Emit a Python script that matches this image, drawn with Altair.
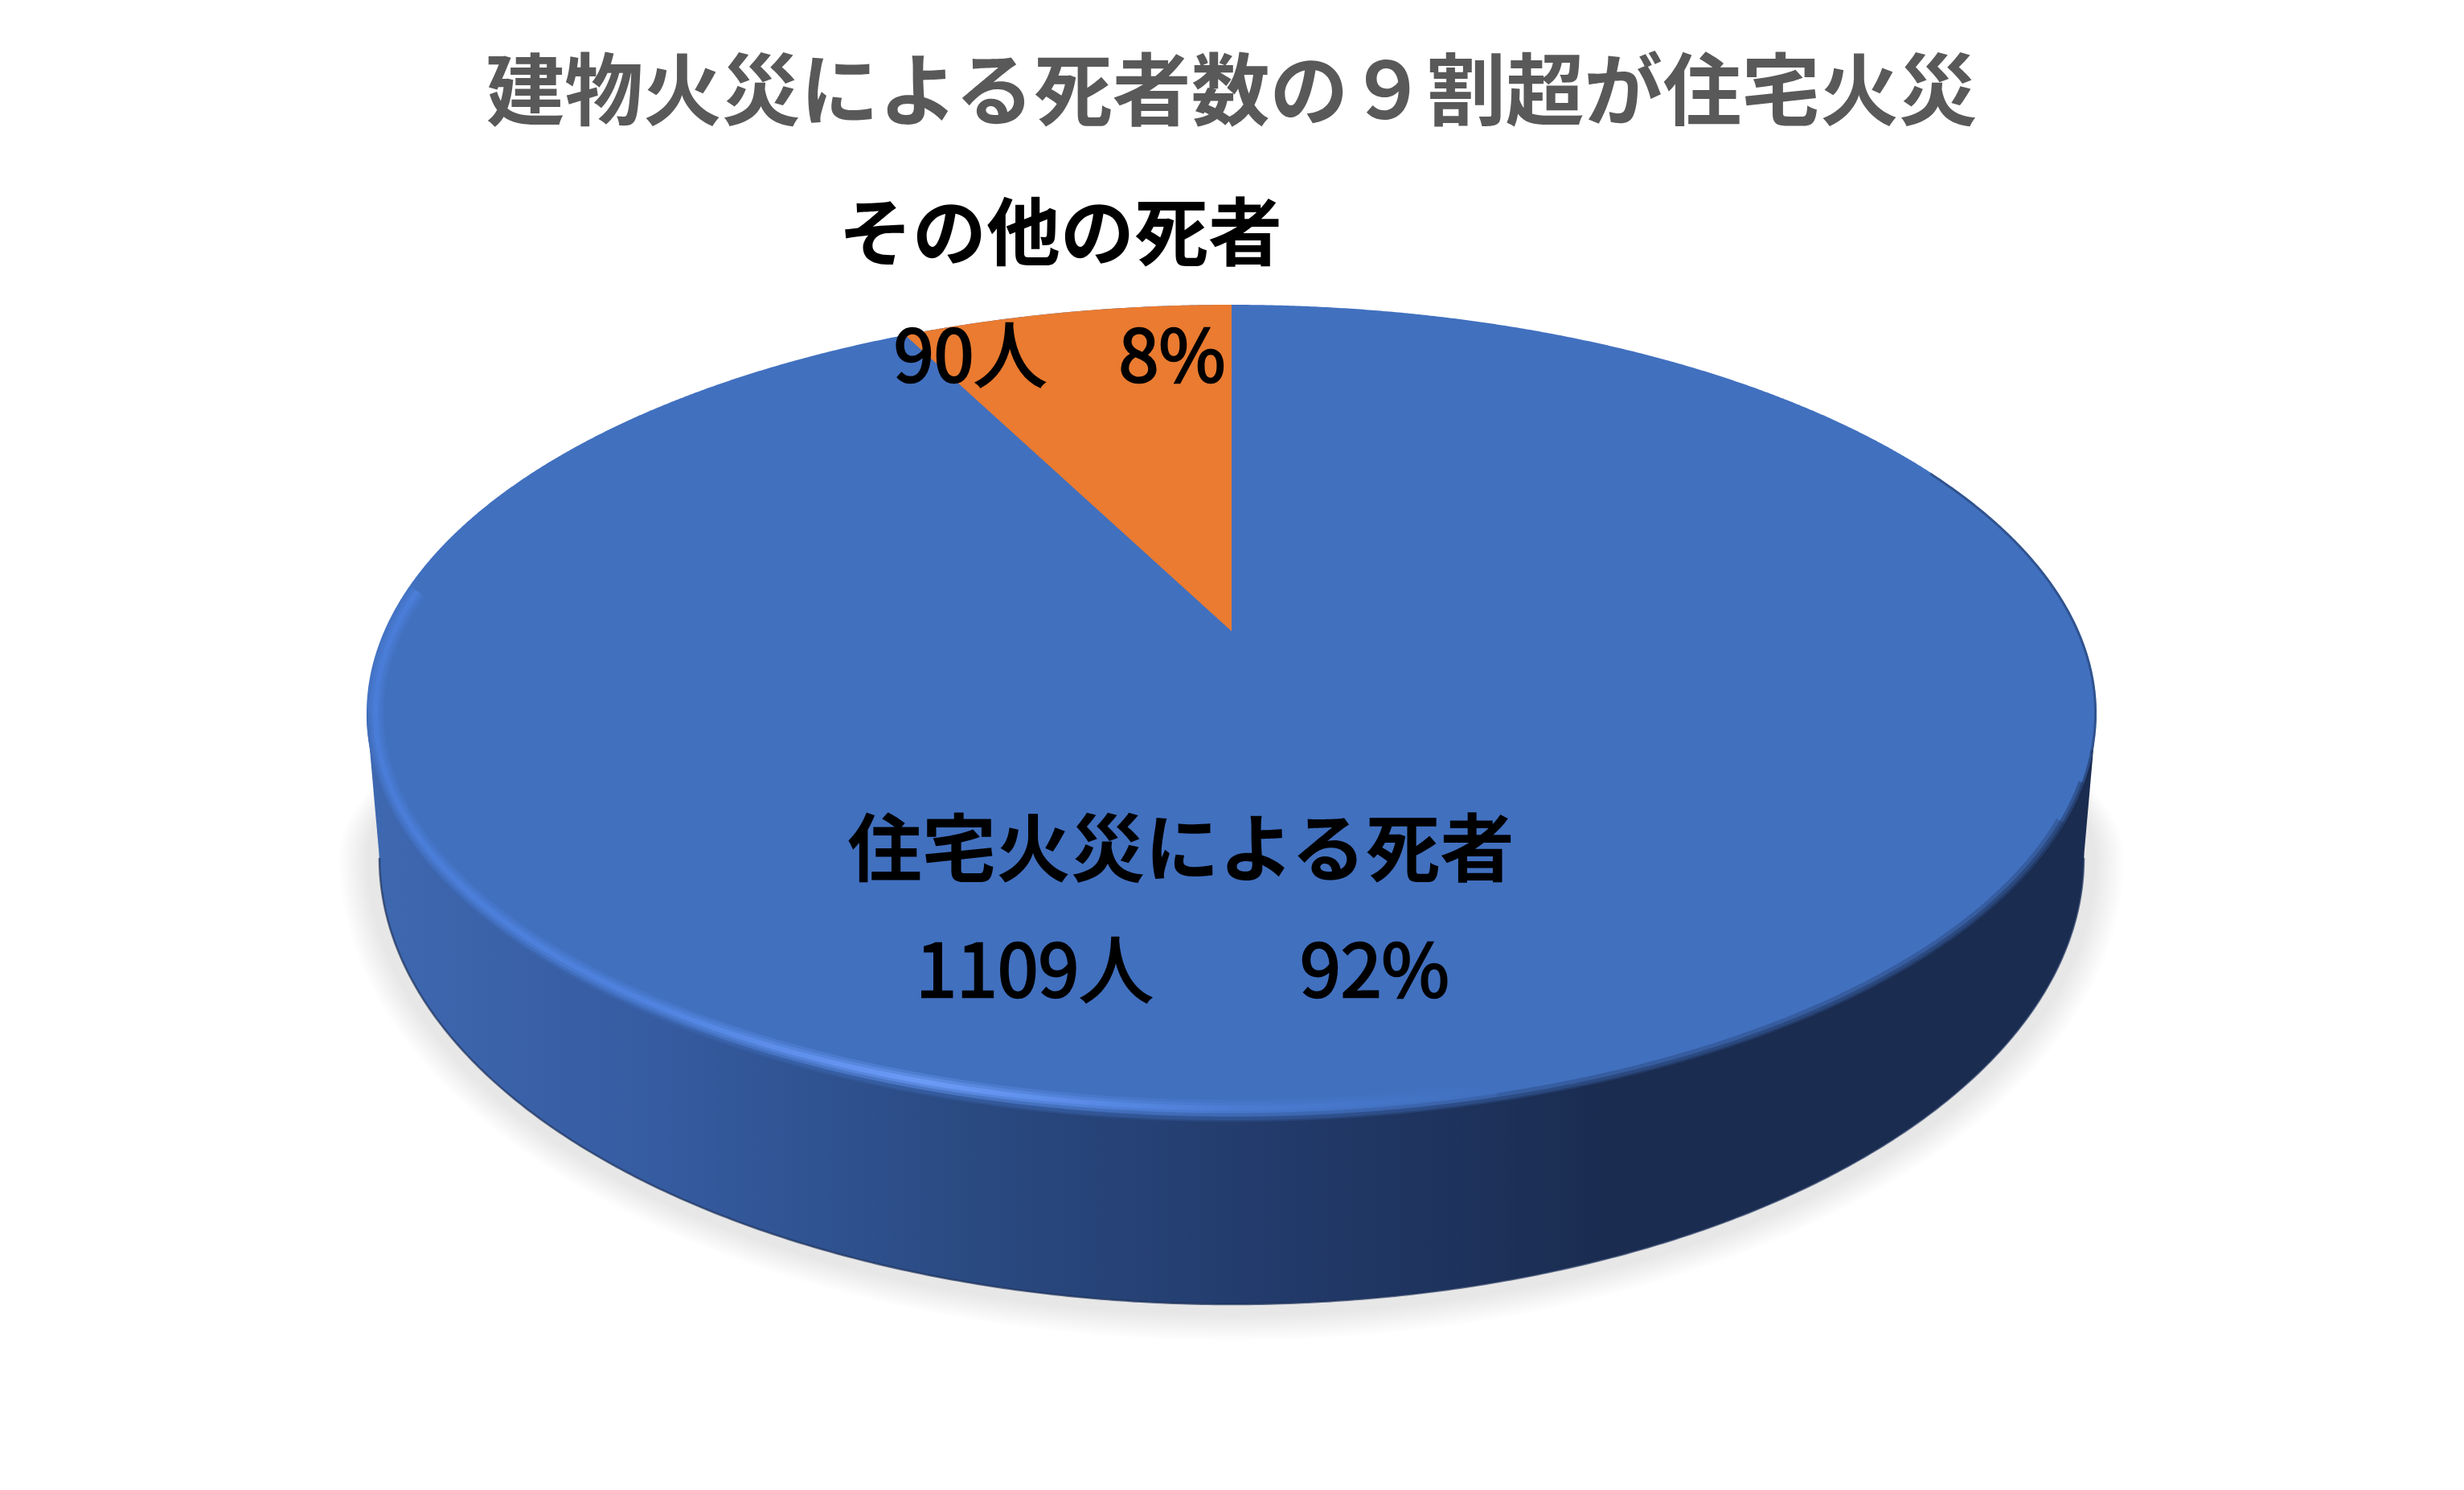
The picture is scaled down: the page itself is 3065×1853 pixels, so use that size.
import altair as alt
import numpy as np
import pandas as pd

# --- chart values
categories = ["住宅火災による死者", "その他の死者"]
deaths = [1109, 90]
percents = ["92%", "8%"]
title_text = "建物火災による死者数の９割超が住宅火災"

# --- page / drawing frame (data units are page pixels)
W, H = 3065, 1853
X_SCALE = alt.Scale(domain=[8, W - 8], range=[0, W - 16], nice=False, zero=False, clamp=False)
Y_SCALE = alt.Scale(domain=[H - 8, 8], range=[H - 16, 0], nice=False, zero=False, clamp=False)

# --- disc geometry (tilted, seen in perspective)
CX, CY, RX, RY = 1532.0, 887.0, 1076.0, 508.0
BX, BY, BRX, BRY = 1532.0, 1067.0, 1060.0, 555.0   # lower rim of the wall
APEX_Y, PERSP = 785.0, 0.2008
PA, PB = RX * np.sqrt(1 - PERSP**2), (APEX_Y - (CY - RY)) * (1 + PERSP)


def project(theta):
    """Point on the disc's rim, theta measured anticlockwise from 12 o'clock."""
    u, v = -np.sin(theta), np.cos(theta)
    d = 1 + PERSP * v
    return CX + PA * u / d, APEX_Y - PB * v / d


def arc_x(cx, rx, n=500):
    return cx + rx * np.cos(np.linspace(np.pi, 0, n))


def half(x, cx, rx):
    return np.sqrt(np.clip(1 - ((x - cx) / rx) ** 2, 0, 1))


def grad(stops, x0, x1):
    return alt.Gradient(
        gradient="linear", x1=0, x2=1, y1=0, y2=0,
        stops=[alt.GradientStop(offset=float((p - x0) / (x1 - x0)), color=c) for p, c in stops],
    )


def area(df, **mark):
    return alt.Chart(df).mark_area(clip=False, **mark).encode(
        x=alt.X("x:Q", scale=X_SCALE, axis=None),
        y=alt.Y("y:Q", scale=Y_SCALE, axis=None, stack=None),
        y2="y2:Q",
    )


def line(df, **mark):
    return alt.Chart(df).mark_line(clip=False, **mark).encode(
        x=alt.X("x:Q", scale=X_SCALE, axis=None),
        y=alt.Y("y:Q", scale=Y_SCALE, axis=None),
        order="i:Q",
    )


def text(s, px, py, size, color="#000000", weight="normal", stroke=0.0):
    kw = {"stroke": color, "strokeWidth": stroke} if stroke else {}
    return alt.Chart(pd.DataFrame({"t": [s]})).mark_text(
        font="Noto Sans CJK JP", fontSize=size, fontWeight=weight, color=color,
        align="center", baseline="middle", **kw,
    ).encode(x=alt.value(px - 8), y=alt.value(py - 8), text="t:N")


layers = []

# --- soft shadow under the disc
for g in np.linspace(50, 16, 12):
    x = arc_x(BX, BRX + g)
    s = half(x, BX, BRX + g)
    layers.append(area(pd.DataFrame({"x": x, "y": BY - 320 * s, "y2": BY + (BRY + g * 0.9) * s}),
                       color="#000000", opacity=0.0095))

# --- side wall
x = arc_x(CX, RX, 800)
x = x[(x >= 456) & (x <= 2608)]
lower = np.where(
    np.abs(x - BX) <= BRX,
    BY + BRY * half(x, BX, BRX),
    BY,
)
edge_l, edge_r = BX - BRX, BX + BRX
lower = np.where(x < edge_l, CY + (BY - CY) * (x - (CX - RX)) / (edge_l - (CX - RX)), lower)
lower = np.where(x > edge_r, CY + (BY - CY) * ((CX + RX) - x) / ((CX + RX) - edge_r), lower)
wall_stops = [(456, "#3e68b0"), (800, "#365ca2"), (1200, "#2a4a82"),
              (1600, "#223a6a"), (2000, "#1a2c50"), (2608, "#1a2c50")]
layers.append(area(pd.DataFrame({"x": x, "y": np.full_like(x, CY), "y2": lower}),
                   color=grad(wall_stops, x.min(), x.max())))

# thin dark lower rim of the wall
xb = arc_x(BX, BRX, 400)
layers.append(line(pd.DataFrame({"i": np.arange(len(xb)), "x": xb, "y": BY + BRY * half(xb, BX, BRX)}),
                   color="#1c305a", strokeWidth=2.5, opacity=0.7))

# --- top face: whole disc, then the smaller slice over it
xf = arc_x(CX, RX, 900)
sf = half(xf, CX, RX)
layers.append(area(pd.DataFrame({"x": xf, "y": CY - RY * sf, "y2": CY + RY * sf}), color="#4170bf"))

theta = 2 * np.pi * deaths[1] / sum(deaths)
lx, ly = project(theta)
xs = np.linspace(lx, CX, 200)
layers.append(area(pd.DataFrame({
    "x": xs,
    "y": CY - RY * half(xs, CX, RX),
    "y2": ly + (APEX_Y - ly) * (xs - lx) / (CX - lx),
}), color="#ea7b30"))

# --- bevel: soft edge between face and wall (tapering towards the right end)
for width, op in [(12, 0.28), (7, 0.4), (3, 0.5)]:
    t = np.linspace(0.03 + width * 0.02, np.pi, 500)
    layers.append(line(pd.DataFrame({
        "i": np.arange(len(t)),
        "x": CX + (RX - width / 2) * np.cos(t),
        "y": CY + (RY - width / 2 + 1) * np.sin(t),
    }), color=grad(wall_stops, 456, 2608), strokeWidth=width, opacity=op))

# --- bevel: light rim on the lower left
t = np.linspace(np.pi * 0.40, np.pi * 1.1, 500)
rx_ = CX + (RX - 11) * np.cos(t)
ry_ = CY + (RY - 17) * np.sin(t)
rim_stops = [(466, "#4a7dd8"), (800, "#4f83e0"), (1150, "#6d9cf8"), (1350, "#5a8ce8"),
             (1550, "#4a7bd2"), (float(rx_.max()), "#4170bf")]
rim_df = pd.DataFrame({"i": np.arange(len(t)), "x": rx_, "y": ry_})
for width, op in [(20, 0.3), (13, 0.45), (6, 0.9)]:
    layers.append(line(rim_df, color=grad(rim_stops, rx_.min(), rx_.max()),
                       strokeWidth=width, opacity=op))

# --- bevel: dark fringe on the upper right of the face
t = np.linspace(-np.pi * 0.2, 0.1, 200)
layers.append(line(pd.DataFrame({
    "i": np.arange(len(t)),
    "x": CX + (RX - 1.5) * np.cos(t),
    "y": CY + (RY - 1.5) * np.sin(t),
}), color="#1f3560", strokeWidth=3, opacity=0.5))

# --- texts
layers.append(text(title_text, 1532, 119, 97.8, "#595959", "bold"))
layers.append(text(categories[1], 1319, 295, 92, weight="bold"))
layers.append(text(f"{deaths[1]}人\u3000{percents[1]}", 1318, 448, 90, stroke=2.6))
layers.append(text(categories[0], 1469, 1061, 92.5, weight="bold"))
layers.append(text(f"{deaths[0]}人\u3000\u3000{percents[0]}", 1471, 1213, 91.5, stroke=2.6))

chart = alt.layer(*layers).properties(
    width=W - 16, height=H - 16, padding=0, background="#ffffff",
    autosize=alt.AutoSizeParams(type="none"),
).configure_view(stroke=None)

chart.save("out.html", embed_options={"renderer": "svg", "actions": False})
